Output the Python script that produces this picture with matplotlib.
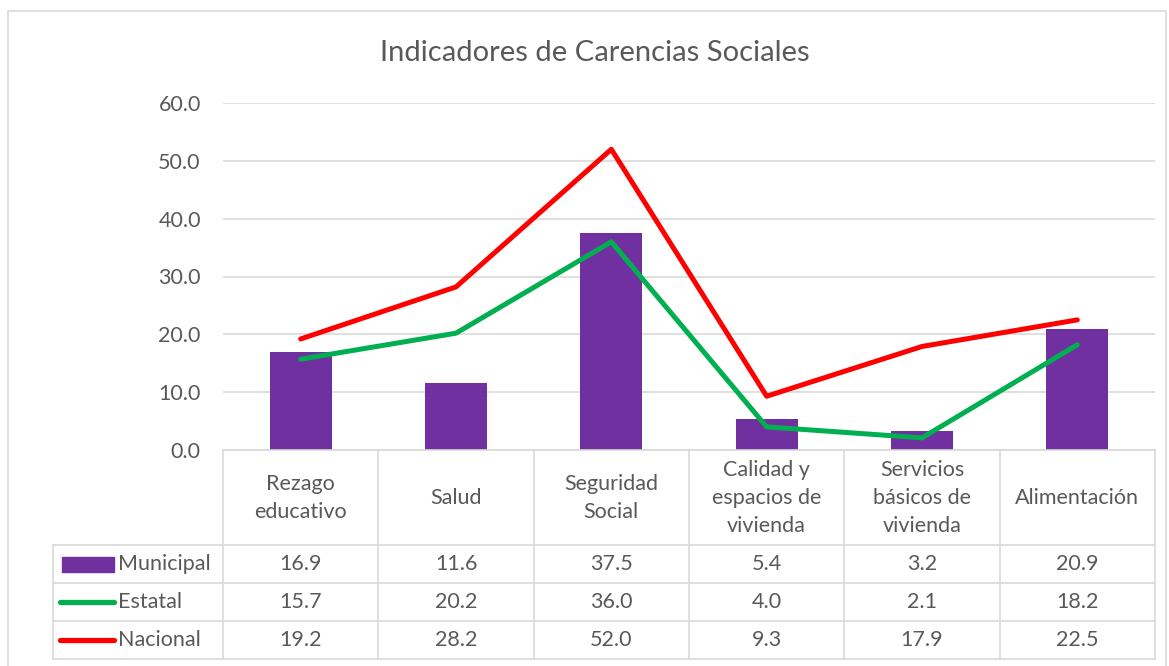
import matplotlib
matplotlib.use("Agg")
import matplotlib.pyplot as plt
from matplotlib.patches import Rectangle
from matplotlib.lines import Line2D

categories = ["Rezago\neducativo", "Salud", "Seguridad\nSocial",
              "Calidad y\nespacios de\nvivienda", "Servicios\nbásicos de\nvivienda", "Alimentación"]
municipal = [16.9, 11.6, 37.5, 5.4, 3.2, 20.9]
estatal = [15.7, 20.2, 36.0, 4.0, 2.1, 18.2]
nacional = [19.2, 28.2, 52.0, 9.3, 17.9, 22.5]
series_names = ["Municipal", "Estatal", "Nacional"]
yticks = [0, 10, 20, 30, 40, 50, 60]
title = "Indicadores de Carencias Sociales"

PURPLE = "#7030A0"
GREEN = "#00B050"
RED = "#FF0000"
GRID = "#D9D9D9"
TXT = "#595959"
FONT = ["Lato", "DejaVu Sans"]
plt.rcParams['font.family'] = FONT
FS = 15.5

W, H = 1169, 666
fig = plt.figure(figsize=(W / 100, H / 100), dpi=100)

def fx(px):
    return px / W

def fy(py):
    return 1 - py / H

# outer border
fig.add_artist(Rectangle((fx(8), fy(672)), fx(1158), (672 - 11) / H, transform=fig.transFigure,
                         fill=False, edgecolor=GRID, linewidth=1.2))

# main axes
left, right, top, bottom = 223, 1155, 103, 450
ax = fig.add_axes([fx(left), fy(bottom), fx(right - left), (bottom - top) / H])
n = len(categories)
x = list(range(n))
ax.bar(x, municipal, width=0.4, color=PURPLE, zorder=2)
ax.plot(x, estatal, color=GREEN, linewidth=3.6, zorder=3, solid_capstyle="round")
ax.plot(x, nacional, color=RED, linewidth=3.6, zorder=4, solid_capstyle="round")
ax.set_xlim(-0.5, n - 0.5)
ax.set_ylim(0, 60)
ax.set_yticks(yticks)
ax.set_yticklabels([f"{v:.1f}" for v in yticks], fontsize=FS, color=TXT)
ax.yaxis.grid(True, color=GRID, linewidth=1.2, zorder=0)
ax.set_axisbelow(True)
ax.tick_params(axis="y", length=0, pad=16)
ax.set_xticks([])
for s in ax.spines.values():
    s.set_visible(False)

fig.text(fx(595), fy(53), title, ha="center", va="center", fontsize=21, color=TXT)

# data table
tleft = 53
header_h = 95
row_h = 38
col_w = (right - left) / n
tab_h = header_h + row_h * 3
tax = fig.add_axes([fx(tleft), fy(bottom + tab_h), fx(right - tleft), tab_h / H])
tax.set_xlim(tleft, right)
tax.set_ylim(tab_h, 0)
tax.axis("off")
lc = dict(color=GRID, linewidth=1.2, clip_on=False)
# horizontal lines
tax.plot([left, right], [0, 0], **lc)
for r in range(4):
    yy = header_h + r * row_h
    tax.plot([tleft, right], [yy, yy], **lc)
# vertical lines
tax.plot([tleft, tleft], [header_h, tab_h], **lc)
for c in range(n + 1):
    xx = left + c * col_w
    tax.plot([xx, xx], [0, tab_h], **lc)

for c, cat in enumerate(categories):
    tax.text(left + (c + 0.5) * col_w, header_h / 2, cat, ha="center", va="center",
             fontsize=FS, color=TXT, linespacing=1.5)

rows = [municipal, estatal, nacional]
for r, vals in enumerate(rows):
    yc = header_h + (r + 0.5) * row_h
    for c, v in enumerate(vals):
        tax.text(left + (c + 0.5) * col_w, yc, f"{v:.1f}", ha="center", va="center",
                 fontsize=FS, color=TXT)
    tax.text(118, yc, series_names[r], ha="left", va="center", fontsize=FS, color=TXT)

# legend keys
yc0 = header_h + 0.5 * row_h
tax.add_patch(Rectangle((62, yc0 - 7.5), 52, 15, color=PURPLE))
for r, col in [(1, GREEN), (2, RED)]:
    yc = header_h + (r + 0.5) * row_h
    tax.add_line(Line2D([60, 114], [yc, yc], color=col, linewidth=3.8, solid_capstyle="round"))

fig.savefig("out.png", dpi=100)
